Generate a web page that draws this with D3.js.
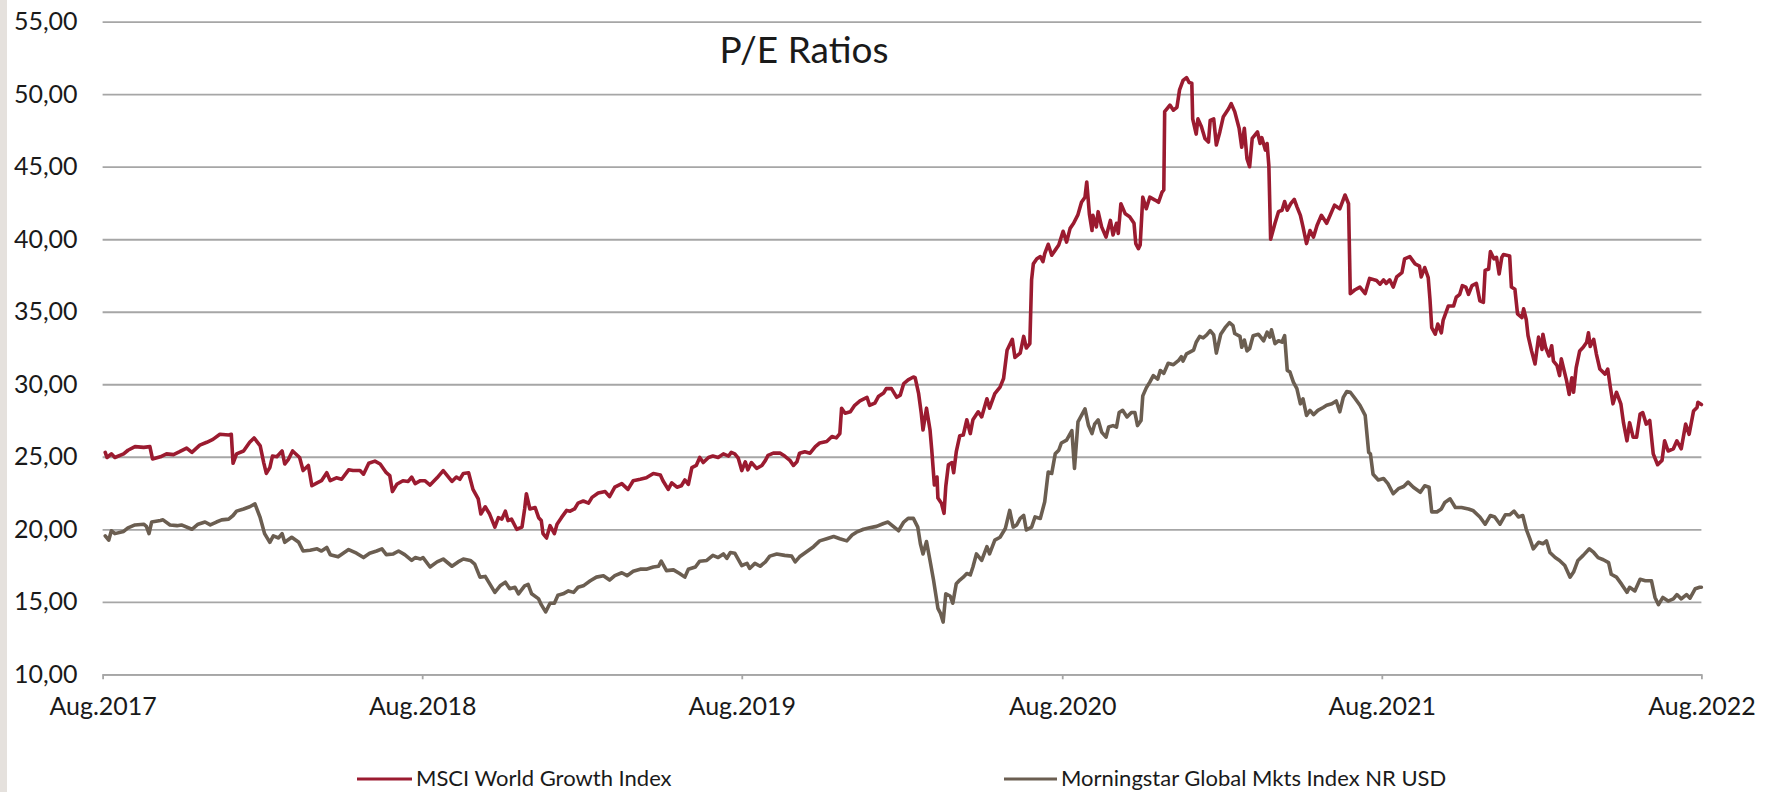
<!DOCTYPE html>
<html>
<head>
<meta charset="utf-8">
<script src="https://cdn.jsdelivr.net/npm/d3@7/dist/d3.min.js"></script>
<style>
  html, body { margin: 0; padding: 0; background: #ffffff; }
  svg { display: block; }
  text { font-family: "Lato", "Open Sans", sans-serif; fill: #1a1a1a; }
</style>
</head>
<body>
<div id="chart"></div>
<script>
// ---------------- DATA ----------------
const title = "P/E Ratios";
const seriesNames = ["MSCI World Growth Index", "Morningstar Global Mkts Index NR USD"];
const startDate = "2017-08-01";
const xTickYears = [2017, 2018, 2019, 2020, 2021, 2022];
const xTickLabels = ["Aug.2017", "Aug.2018", "Aug.2019", "Aug.2020", "Aug.2021", "Aug.2022"];
const yTicks = [10, 15, 20, 25, 30, 35, 40, 45, 50, 55];

// days after 1 Aug 2017
const msciDays = [3,5,10,14,24,29,37,47,54,57,66,73,81,88,96,102,111,119,126,134,144,147,149,153,161,168,173,180,184,187,191,194,199,205,208,212,217,225,229,235,239,245,250,256,260,267,273,281,286,294,298,304,311,317,324,328,331,336,343,349,353,357,363,368,374,382,389,399,404,408,412,418,423,429,432,437,442,448,452,456,460,463,467,473,479,482,484,488,494,498,501,503,507,511,516,519,524,530,534,539,543,549,555,559,566,574,579,585,593,600,606,614,621,629,637,640,646,650,656,661,665,669,673,678,682,686,692,697,703,709,715,718,722,726,730,734,737,741,747,753,757,760,766,774,779,785,789,793,796,802,808,814,819,827,833,838,842,844,848,854,859,865,873,876,882,886,892,895,901,907,911,915,920,926,928,932,935,937,941,945,947,950,953,954,958,961,963,966,970,972,975,979,983,987,991,994,1000,1004,1010,1013,1019,1025,1029,1033,1039,1042,1048,1052,1055,1059,1061,1063,1067,1071,1074,1076,1080,1084,1088,1092,1097,1101,1105,1109,1114,1118,1122,1124,1127,1130,1131,1135,1137,1141,1146,1151,1154,1158,1160,1163,1168,1173,1178,1180,1183,1185,1188,1192,1196,1202,1206,1210,1212,1213,1219,1223,1227,1230,1234,1238,1241,1244,1245,1249,1251,1255,1259,1263,1265,1269,1272,1276,1280,1286,1289,1293,1298,1301,1304,1307,1310,1313,1319,1322,1324,1328,1330,1332,1334,1339,1343,1347,1350,1353,1357,1361,1364,1368,1371,1375,1379,1383,1387,1392,1398,1402,1407,1413,1419,1423,1425,1430,1436,1442,1447,1455,1459,1463,1466,1470,1474,1478,1484,1487,1493,1499,1504,1506,1510,1514,1516,1518,1522,1525,1529,1531,1537,1543,1546,1550,1553,1557,1560,1564,1569,1573,1577,1579,1583,1585,1589,1592,1595,1598,1600,1607,1609,1613,1616,1621,1623,1626,1628,1632,1636,1640,1644,1645,1648,1652,1655,1657,1661,1664,1666,1672,1675,1678,1680,1683,1687,1691,1695,1697,1699,1703,1706,1710,1716,1719,1722,1725,1729,1734,1737,1741,1744,1748,1752,1756,1759,1763,1767,1771,1776,1781,1784,1788,1794,1798,1803,1808,1812,1817,1821,1822,1826];
const msciPE = [25.3,24.95,25.2,24.95,25.2,25.45,25.7,25.65,25.7,24.85,25.0,25.2,25.15,25.35,25.6,25.3,25.8,26.0,26.2,26.55,26.5,26.55,24.55,25.2,25.4,26.0,26.3,25.75,24.6,23.85,24.25,25.05,25.0,25.4,24.5,24.8,25.4,24.95,24.05,24.4,23.0,23.2,23.35,23.9,23.35,23.55,23.45,24.1,24.05,24.05,23.8,24.55,24.7,24.5,23.9,23.7,22.6,23.1,23.35,23.3,23.6,23.15,23.35,23.35,23.05,23.55,24.05,23.3,23.6,23.45,23.85,23.9,22.75,22.1,21.05,21.55,21.05,20.15,20.8,20.7,21.25,20.6,20.7,20.0,20.15,21.4,22.45,21.4,21.5,20.8,20.6,19.7,19.4,20.25,19.7,20.35,20.8,21.3,21.25,21.4,21.8,21.95,21.8,22.2,22.5,22.6,22.25,22.9,23.15,22.75,23.35,23.45,23.55,23.85,23.75,23.35,22.75,23.2,22.9,23.0,23.4,23.1,24.25,24.4,24.95,24.6,24.95,25.05,24.95,25.2,25.05,25.3,25.2,24.9,24.05,24.65,24.1,24.6,24.2,24.4,24.75,25.1,25.25,25.25,25.05,24.75,24.4,24.65,25.25,25.35,25.25,25.7,25.95,26.05,26.4,26.3,26.6,28.35,28.0,28.1,28.55,28.85,29.1,28.55,28.7,29.15,29.4,29.7,29.7,29.1,29.25,30.05,30.3,30.5,30.45,29.35,28.0,26.85,28.35,26.85,25.45,23.05,23.6,22.15,21.8,21.1,22.95,24.45,24.6,23.9,25.35,26.45,26.5,27.55,26.6,27.55,28.1,27.75,29.0,28.35,29.35,29.8,30.4,32.35,33.1,31.85,32.15,33.3,32.5,32.8,37.2,38.3,38.65,38.8,38.45,39.0,39.65,38.9,39.25,39.6,40.55,39.8,40.75,41.1,41.7,42.55,42.9,43.95,41.75,40.6,41.65,40.85,41.9,40.85,40.15,41.3,40.3,41.1,40.4,42.45,41.75,41.55,41.1,39.7,39.35,39.6,42.9,42.1,42.9,42.7,42.55,43.25,43.4,48.8,49.25,48.9,49.1,50.3,50.95,51.15,50.8,50.75,48.3,47.25,48.3,47.75,46.95,46.7,48.2,48.3,46.5,47.4,48.45,49.0,49.35,48.8,47.65,46.35,47.65,45.55,45.0,46.95,47.4,46.6,47.0,46.15,46.6,45.05,40.0,41.1,41.9,42.0,42.6,42.0,42.45,42.75,42.25,41.65,40.85,39.7,40.6,40.15,40.95,41.65,41.1,41.65,42.35,42.1,43.05,42.45,36.25,36.5,36.7,36.25,37.3,37.15,36.9,37.2,36.95,37.2,36.7,37.4,37.7,38.65,38.8,38.3,38.15,37.4,38.05,37.35,35.85,33.9,33.45,34.15,33.55,34.4,35.4,35.4,36.0,36.2,36.8,36.7,36.2,36.8,36.95,35.75,35.65,37.85,37.95,39.15,38.65,38.75,37.6,38.75,38.95,38.85,36.7,36.55,34.85,34.6,35.2,34.45,33.35,32.3,31.4,33.25,32.4,33.45,32.55,31.95,32.65,31.6,31.3,30.6,31.75,30.25,29.3,30.45,29.45,31.15,32.3,32.55,32.9,33.55,32.6,33.1,32.1,31.05,30.7,31.05,29.8,28.65,29.45,28.65,27.35,26.1,27.35,26.35,26.35,27.95,28.05,27.25,27.5,25.2,24.45,24.75,26.1,25.4,25.55,26.1,25.55,27.25,26.55,28.15,28.4,28.75,28.6];

const mstarDays = [3,7,10,14,24,29,37,47,50,53,56,66,69,77,85,90,102,109,117,123,130,136,144,149,153,161,168,174,180,185,191,195,201,205,208,216,224,229,237,245,250,256,260,269,281,290,298,305,313,319,324,332,338,345,353,357,363,366,374,382,389,399,406,412,420,425,431,437,442,448,454,460,465,471,475,482,486,490,498,501,506,511,516,520,526,532,538,543,549,557,564,572,579,585,593,599,606,614,621,629,635,638,644,652,659,665,669,677,682,690,697,703,709,713,717,722,730,736,739,745,751,757,762,770,779,787,791,796,804,812,819,827,835,842,850,856,861,869,876,884,892,897,903,909,915,920,926,931,934,937,941,945,949,952,954,957,960,963,968,971,975,979,983,987,991,994,998,1004,1010,1013,1019,1025,1031,1036,1040,1044,1048,1052,1055,1061,1065,1071,1076,1080,1084,1088,1092,1095,1101,1107,1110,1114,1118,1122,1126,1130,1133,1137,1141,1146,1149,1154,1158,1161,1165,1170,1175,1179,1182,1186,1188,1192,1196,1200,1205,1208,1212,1217,1223,1229,1232,1234,1238,1246,1249,1253,1257,1261,1265,1269,1272,1277,1282,1287,1291,1293,1299,1301,1304,1307,1310,1314,1320,1326,1330,1333,1335,1339,1343,1347,1350,1353,1356,1360,1364,1368,1371,1375,1379,1383,1388,1394,1398,1404,1409,1413,1417,1421,1425,1430,1436,1442,1446,1448,1451,1457,1463,1468,1474,1480,1486,1491,1497,1505,1510,1515,1518,1524,1529,1533,1539,1545,1552,1560,1565,1573,1579,1585,1590,1596,1602,1607,1612,1617,1622,1626,1630,1634,1640,1645,1649,1653,1659,1664,1670,1676,1680,1685,1691,1698,1703,1708,1714,1720,1723,1729,1735,1741,1744,1750,1756,1762,1769,1773,1777,1782,1788,1794,1798,1803,1809,1813,1819,1824,1826];
const mstarPE = [19.55,19.25,19.9,19.7,19.85,20.1,20.3,20.35,20.2,19.7,20.5,20.6,20.65,20.3,20.25,20.3,20.0,20.35,20.5,20.3,20.5,20.65,20.7,20.95,21.25,21.4,21.55,21.75,20.8,19.7,19.1,19.55,19.4,19.7,19.1,19.45,19.1,18.5,18.55,18.65,18.5,18.75,18.25,18.1,18.6,18.35,18.05,18.35,18.5,18.65,18.25,18.3,18.5,18.25,17.85,18.05,17.95,18.05,17.4,17.75,17.95,17.45,17.75,17.95,17.85,17.6,16.7,16.75,16.25,15.65,16.1,16.35,15.9,16.0,15.55,16.1,16.2,15.55,15.2,14.8,14.3,14.9,14.9,15.45,15.55,15.75,15.65,16.0,16.1,16.45,16.7,16.8,16.5,16.8,17.0,16.8,17.1,17.25,17.25,17.4,17.45,17.8,17.15,17.2,16.95,16.7,17.25,17.4,17.8,17.85,18.2,18.05,18.3,18.0,18.4,18.35,17.5,17.65,17.3,17.65,17.45,17.75,18.15,18.3,18.2,18.15,17.75,18.1,18.45,18.8,19.2,19.35,19.5,19.35,19.2,19.6,19.8,20.0,20.1,20.2,20.4,20.5,20.2,19.9,20.5,20.75,20.75,20.15,19.0,18.3,19.15,17.85,16.5,15.35,14.55,14.2,13.6,15.55,15.4,14.9,16.25,16.5,16.7,16.95,16.85,17.4,18.3,17.85,18.8,18.3,19.25,19.45,20.05,21.3,20.15,20.3,20.75,20.95,19.95,20.15,20.85,20.75,21.9,23.95,23.85,25.2,25.45,25.95,26.15,26.8,24.2,27.4,27.85,28.3,27.15,26.6,27.25,27.55,26.7,26.35,27.05,27.15,27.05,28.05,28.2,27.75,28.05,28.05,27.15,27.5,29.2,29.75,30.15,30.6,30.35,30.95,30.75,31.45,31.35,31.65,31.9,31.6,32.1,32.35,32.9,33.3,33.2,33.4,33.7,33.4,32.15,33.45,33.9,34.25,34.05,33.5,33.3,32.55,33.05,32.3,32.45,33.35,33.45,33.0,33.6,33.25,33.75,32.8,33.0,32.9,33.35,30.95,30.85,30.15,29.7,28.65,29.0,27.85,28.2,27.9,28.2,28.4,28.55,28.65,28.85,28.1,29.1,29.5,29.45,29.05,28.55,27.85,25.3,25.2,23.8,23.4,23.5,23.15,22.45,22.8,22.95,23.25,22.9,22.55,23.0,22.9,21.2,21.2,21.4,21.85,22.1,21.5,21.5,21.4,21.3,20.85,20.35,20.95,20.85,20.35,21.0,21.0,21.25,20.85,20.95,20.0,19.35,18.65,19.1,19.0,19.2,18.4,18.05,17.85,17.5,16.7,17.05,17.85,18.2,18.65,18.4,18.05,17.9,17.7,16.9,16.7,16.2,15.65,16.0,15.75,16.55,16.45,16.45,15.3,14.8,15.3,15.05,15.2,15.5,15.2,15.5,15.25,15.9,16.0,16.0];

// ---------------- CHART ----------------
const W = 1773, H = 792;
const plot = { left: 102.6, right: 1701.4, top: 21.7, bottom: 674.3 };
const colors = ["#9b1b30", "#6b5e51"];
const gridColor = "#a6a6a6";

const parse = d3.timeParse("%Y-%m-%d");
const t0 = parse(startDate);
const toSeries = (days, vals) => days.map((d, i) => ({ date: d3.timeDay.offset(t0, d), v: vals[i] }));
const series = [toSeries(msciDays, msciPE), toSeries(mstarDays, mstarPE)];

const x = d3.scaleTime()
  .domain([t0, d3.timeYear.offset(t0, 5)])
  .range([plot.left, plot.right]);
const y = d3.scaleLinear().domain([10, 55]).range([plot.bottom, plot.top]);

const svg = d3.select("#chart").append("svg").attr("width", W).attr("height", H);
svg.append("rect").attr("width", W).attr("height", H).attr("fill", "#ffffff");
// left edge band
svg.append("rect").attr("x", 0).attr("y", 0).attr("width", 7).attr("height", H).attr("fill", "#e5e1dd");

const loc = d3.formatLocale({ decimal: ",", thousands: ".", grouping: [3], currency: ["", ""] });
const fmt = loc.format(".2f");

// Y axis + gridlines
const yAxis = d3.axisLeft(y)
  .tickValues(yTicks)
  .tickSize(-(plot.right - plot.left))
  .tickPadding(25)
  .tickFormat(fmt);
const gy = svg.append("g").attr("transform", `translate(${plot.left},0)`).call(yAxis);
gy.select(".domain").remove();
gy.selectAll(".tick line").attr("stroke", gridColor).attr("stroke-width", 1.8);
gy.selectAll(".tick text").attr("font-size", 25).attr("font-family", "Lato").attr("fill", "#1a1a1a");

// X axis
const xTickDates = xTickYears.map(yr => new Date(yr, 7, 1));
const xAxis = d3.axisBottom(x)
  .tickValues(xTickDates)
  .tickSize(5)
  .tickSizeOuter(0)
  .tickPadding(18)
  .tickFormat((d, i) => xTickLabels[i]);
const gx = svg.append("g").attr("transform", `translate(0,${plot.bottom})`).call(xAxis);
gx.select(".domain").attr("stroke", gridColor).attr("stroke-width", 1.8);
gx.selectAll(".tick line").attr("stroke", gridColor).attr("stroke-width", 1.8);
gx.selectAll(".tick text").attr("font-size", 25).attr("font-family", "Lato").attr("fill", "#1a1a1a");

// Lines
const line = d3.line().x(d => x(d.date)).y(d => y(d.v));
series.forEach((s, i) => {
  svg.append("path")
    .datum(s)
    .attr("fill", "none")
    .attr("stroke", colors[i])
    .attr("stroke-width", 3.6)
    .attr("stroke-linejoin", "round")
    .attr("stroke-linecap", "round")
    .attr("d", line);
});

// Title
svg.append("text")
  .attr("x", 804).attr("y", 62.5)
  .attr("text-anchor", "middle")
  .attr("font-size", 37)
  .text(title);

// Legend
const legendPos = [{ x1: 357, x2: 412, tx: 416 }, { x1: 1004, x2: 1057, tx: 1061 }];
const lg = svg.append("g");
seriesNames.forEach((name, i) => {
  const p = legendPos[i];
  lg.append("line")
    .attr("x1", p.x1).attr("x2", p.x2).attr("y1", 779).attr("y2", 779)
    .attr("stroke", colors[i]).attr("stroke-width", 3);
  lg.append("text")
    .attr("x", p.tx).attr("y", 786)
    .attr("font-size", 22)
    .text(name);
});
</script>
</body>
</html>
